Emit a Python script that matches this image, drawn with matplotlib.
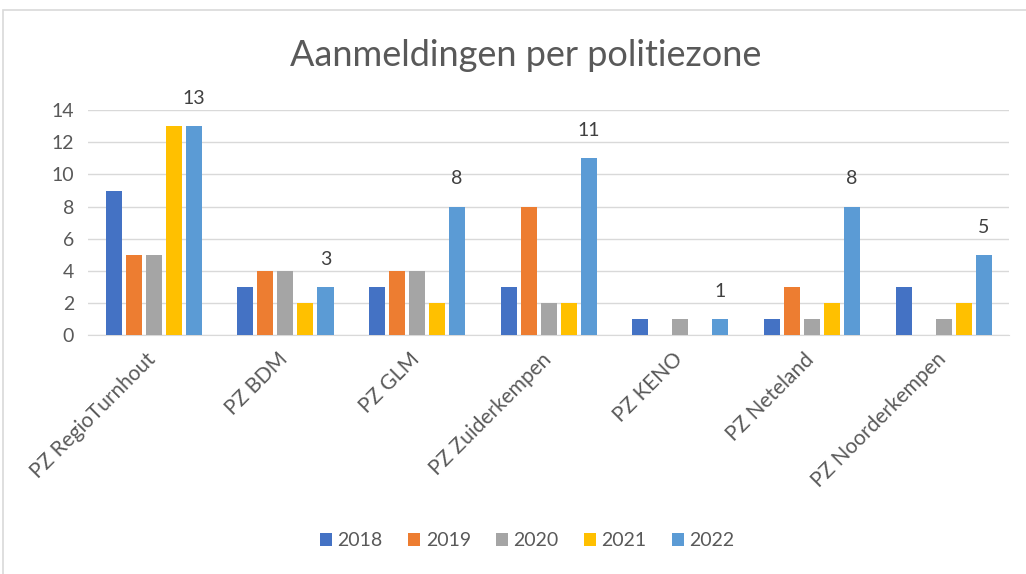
import numpy as np
import matplotlib.pyplot as plt
from matplotlib.patches import Rectangle
from matplotlib.transforms import ScaledTranslation

plt.rcParams['font.family'] = ['Lato', 'DejaVu Sans']

zones = ['PZ RegioTurnhout', 'PZ BDM', 'PZ GLM', 'PZ Zuiderkempen',
         'PZ KENO', 'PZ Neteland', 'PZ Noorderkempen']
years = ['2018', '2019', '2020', '2021', '2022']
v2018 = [9, 3, 3, 3, 1, 1, 3]
v2019 = [5, 4, 4, 8, 0, 3, 0]
v2020 = [5, 4, 4, 2, 1, 1, 1]
v2021 = [13, 2, 2, 2, 0, 2, 2]
v2022 = [13, 3, 8, 11, 1, 8, 5]
colors = ['#4472C4', '#ED7D31', '#A5A5A5', '#FFC000', '#5B9BD5']

series = [v2018, v2019, v2020, v2021, v2022]

fig = plt.figure(figsize=(10.26, 5.74), dpi=100)
ax = fig.add_axes([0.0858, 0.416, 0.898, 0.392])

x = np.arange(len(zones))
slot = 0.152
bw = 0.122
for i, (vals, yr, c) in enumerate(zip(series, years, colors)):
    bars = ax.bar(x + (i - 2) * slot, vals, width=bw, color=c, label=yr, zorder=3)
    if yr == '2022':
        for b, v in zip(bars, vals):
            ax.text(b.get_x() + b.get_width() / 2, v + 1.2, str(v),
                    ha='center', va='bottom', fontsize=14, color='#404040')

ax.set_xlim(-0.5, len(zones) - 0.5)
ax.set_ylim(0, 14)
ax.set_yticks(range(0, 15, 2))
ax.yaxis.grid(True, color='#d9d9d9', linewidth=1, zorder=0)
for s in ['top', 'right', 'left']:
    ax.spines[s].set_visible(False)
ax.spines['bottom'].set_color('#d9d9d9')
ax.tick_params(axis='both', length=0, colors='#595959', labelsize=14)
ax.tick_params(axis='y', pad=10)
ax.tick_params(axis='x', pad=10, labelsize=15)
ax.set_xticks(x)
ax.set_xticklabels(zones, rotation=45, ha='right', rotation_mode='anchor')
# schuif de labels een klein beetje naar links
shift = ScaledTranslation(-8 / 100, 0, fig.dpi_scale_trans)
for lbl in ax.get_xticklabels():
    lbl.set_transform(lbl.get_transform() + shift)

fig.text(0.512, 0.904, 'Aanmeldingen per politiezone', ha='center', va='center',
         fontsize=26, color='#595959')

leg = fig.legend(loc='center', bbox_to_anchor=(0.514, 0.058), ncol=5, frameon=False,
                 fontsize=14, handlelength=0.6, handleheight=0.6, handletextpad=0.3,
                 columnspacing=1.3, labelcolor='#595959')

fig.patches.append(Rectangle((0.003, -0.05), 1.2, 1.032, transform=fig.transFigure,
                             fill=False, edgecolor='#d9d9d9', linewidth=1.2))

plt.savefig('out.png', dpi=100)
